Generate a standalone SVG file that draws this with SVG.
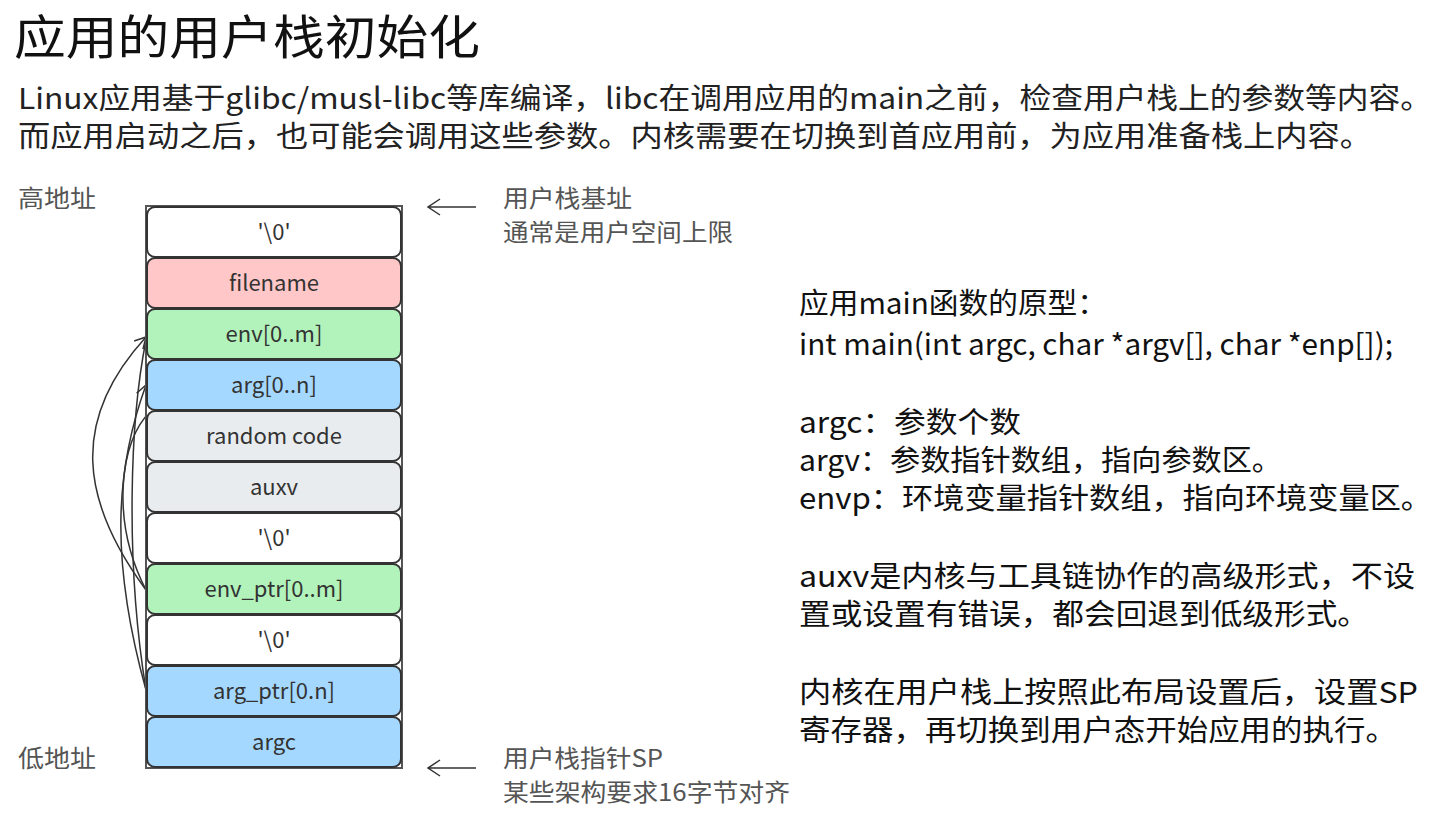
<svg xmlns="http://www.w3.org/2000/svg" width="1439" height="825" viewBox="0 0 1439 825">
<defs>
<marker id="v" markerWidth="14" markerHeight="14" refX="12" refY="7" orient="auto" markerUnits="userSpaceOnUse"><path d="M1,1 L12,7 L1,13" fill="none" stroke="#333" stroke-width="1.5"/></marker>
</defs>
<style>
text{font-family:"Noto Sans CJK SC","Noto Sans",sans-serif}
.c rect{stroke:#333;stroke-width:2}
.c text{font-size:22px;fill:#333;text-anchor:middle}
.g{font-size:24px;fill:#555}
.r{font-size:29px;fill:#111}
.p{font-size:29px;fill:#222}
</style>
<rect width="1439" height="825" fill="#fff"/>
<text x="14" y="54" font-size="47" fill="#111" textLength="466" lengthAdjust="spacingAndGlyphs">应用的用户栈初始化</text>
<text class="p" x="18" y="109" textLength="1414" lengthAdjust="spacingAndGlyphs">Linux应用基于glibc/musl-libc等库编译，libc在调用应用的main之前，检查用户栈上的参数等内容。</text>
<text class="p" x="18" y="147" textLength="1354" lengthAdjust="spacingAndGlyphs">而应用启动之后，也可能会调用这些参数。内核需要在切换到首应用前，为应用准备栈上内容。</text>
<g lengthAdjust="spacingAndGlyphs">
<text class="g" x="18" y="207" textLength="78" lengthAdjust="spacingAndGlyphs">高地址</text>
<text class="g" x="18" y="767" textLength="78" lengthAdjust="spacingAndGlyphs">低地址</text>
<text class="g" x="503" y="207" textLength="129" lengthAdjust="spacingAndGlyphs">用户栈基址</text>
<text class="g" x="503" y="241" textLength="230" lengthAdjust="spacingAndGlyphs">通常是用户空间上限</text>
<text class="g" x="503" y="767" textLength="160" lengthAdjust="spacingAndGlyphs">用户栈指针SP</text>
<text class="g" x="503" y="801" textLength="287" lengthAdjust="spacingAndGlyphs">某些架构要求16字节对齐</text>
</g>
<g id="conn" fill="none" stroke="#333" stroke-width="1.5">
<path d="M476,207 H428 M440,199 L428,207 L440,215"/>
<path d="M476,768 H428 M440,760 L428,768 L440,776"/>
<path d="M146,590 C80,500 70,420 146,337" marker-end="url(#v)"/>
<path d="M146,690 C110,560 115,470 146,385" marker-end="url(#v)"/>
<path d="M146,690 C125,560 130,420 146,340"/>
<path d="M146,590 C110,520 120,440 150,412"/>
</g>
<rect x="146" y="206" width="256" height="562" fill="#fff" stroke="#555" stroke-width="2"/>
<g class="c">
<g id="n1"><rect x="147" y="207" width="254" height="50" rx="8" fill="#fff"/><text x="274" y="240">'\0'</text></g>
<g id="n2"><rect x="147" y="258" width="254" height="50" rx="8" fill="#ffc7c7"/><text x="274" y="291">filename</text></g>
<g id="n3"><rect x="147" y="309" width="254" height="50" rx="8" fill="#b2f2bb"/><text x="274" y="342">env[0..m]</text></g>
<g id="n4"><rect x="147" y="360" width="254" height="50" rx="8" fill="#a5d8ff"/><text x="274" y="393">arg[0..n]</text></g>
<g id="n5"><rect x="147" y="411" width="254" height="50" rx="8" fill="#e9ecef"/><text x="274" y="444">random code</text></g>
<g id="n6"><rect x="147" y="462" width="254" height="50" rx="8" fill="#e9ecef"/><text x="274" y="495">auxv</text></g>
<g id="n7"><rect x="147" y="513" width="254" height="50" rx="8" fill="#fff"/><text x="274" y="546">'\0'</text></g>
<g id="n8"><rect x="147" y="564" width="254" height="50" rx="8" fill="#b2f2bb"/><text x="274" y="597">env_ptr[0..m]</text></g>
<g id="n9"><rect x="147" y="615" width="254" height="50" rx="8" fill="#fff"/><text x="274" y="648">'\0'</text></g>
<g id="n10"><rect x="147" y="666" width="254" height="50" rx="8" fill="#a5d8ff"/><text x="274" y="699">arg_ptr[0.n]</text></g>
<g id="n11"><rect x="147" y="717" width="254" height="50" rx="8" fill="#a5d8ff"/><text x="274" y="750">argc</text></g>
</g>
<g class="r">
<text x="799" y="314" textLength="308" lengthAdjust="spacingAndGlyphs">应用main函数的原型：</text>
<text x="799" y="355" font-family="Liberation Sans,sans-serif" textLength="594" lengthAdjust="spacingAndGlyphs">int main(int argc, char *argv[], char *enp[]);</text>
<text x="799" y="433" textLength="222" lengthAdjust="spacingAndGlyphs">argc：参数个数</text>
<text x="799" y="471" textLength="483" lengthAdjust="spacingAndGlyphs">argv：参数指针数组，指向参数区。</text>
<text x="799" y="509" textLength="633" lengthAdjust="spacingAndGlyphs">envp：环境变量指针数组，指向环境变量区。</text>
<text x="799" y="587" textLength="616" lengthAdjust="spacingAndGlyphs">auxv是内核与工具链协作的高级形式，不设</text>
<text x="799" y="625" textLength="570" lengthAdjust="spacingAndGlyphs">置或设置有错误，都会回退到低级形式。</text>
<text x="799" y="703" textLength="619" lengthAdjust="spacingAndGlyphs">内核在用户栈上按照此布局设置后，设置SP</text>
<text x="799" y="741" textLength="598" lengthAdjust="spacingAndGlyphs">寄存器，再切换到用户态开始应用的执行。</text>
</g>
</svg>
